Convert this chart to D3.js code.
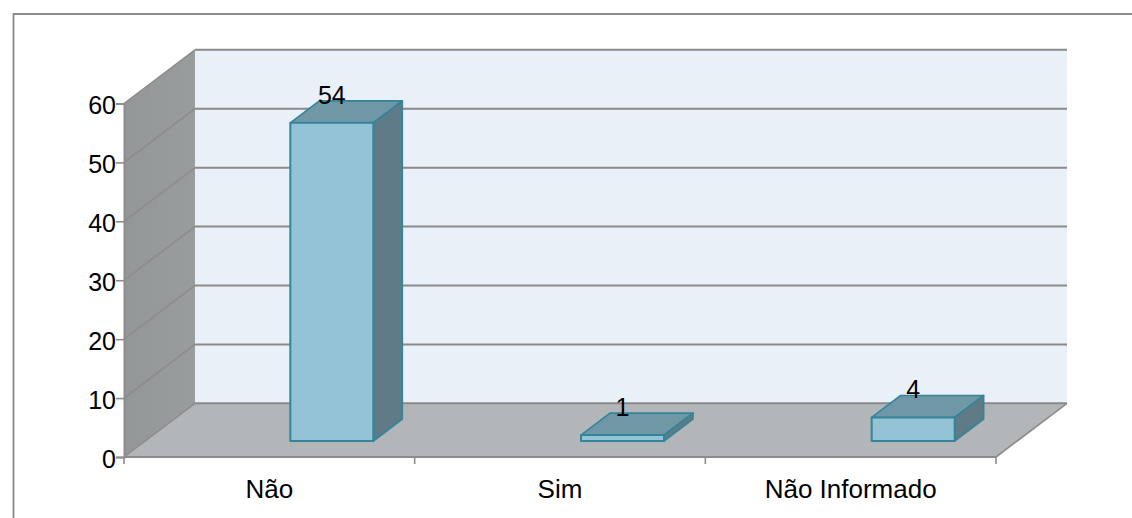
<!DOCTYPE html>
<html><head><meta charset="utf-8">
<script src="https://cdnjs.cloudflare.com/ajax/libs/d3/7.8.5/d3.min.js"></script>
<style>html,body{margin:0;padding:0;background:#fff}svg{display:block}text{font-family:"Liberation Sans",Arial,sans-serif;font-size:25px;fill:#000}</style>
</head><body><svg id="c" width="1132" height="518"></svg>
<script>
const categories = ["Não","Sim","Não Informado"];
const values = [54,1,4];
const yTicks = [0,10,20,30,40,50,60];

const svg = d3.select("#c");
const x = d3.scaleBand().domain(categories).range([124,996]);
const y = d3.scaleLinear().domain([0,60]).range([457,103.5]);
const D = {dx:71, dy:-53.7};
const bar = {off:21, lift:16, w:83, dx:29, dy:-22};
const line = d3.line();
const poly = (pts,fill,stroke,sw) => svg.append("path").attr("d",line(pts)+"Z").attr("fill",fill).attr("stroke",stroke||"none").attr("stroke-width",sw||0).attr("stroke-linejoin","round");

const defs = svg.append("defs");
const g = defs.append("linearGradient").attr("id","wall").attr("x1",0).attr("x2",1).attr("y1",0).attr("y2",0);
g.append("stop").attr("offset",0).attr("stop-color","#939798");
g.append("stop").attr("offset",1).attr("stop-color","#999c9c");

// frame
svg.append("path").attr("d","M13.5,518V14H1132").attr("fill","none").attr("stroke","#8a8a8a").attr("stroke-width",1.8);

const x0=124,x1=996,y0=y(0),yT=y(60);
poly([[x0+D.dx,yT+D.dy],[x1+D.dx,yT+D.dy],[x1+D.dx,y0+D.dy],[x0+D.dx,y0+D.dy]],"#e9f0f7");
poly([[x0,yT],[x0+D.dx,yT+D.dy],[x0+D.dx,y0+D.dy],[x0,y0]],"url(#wall)");
poly([[x0,y0],[x0+D.dx,y0+D.dy],[x1+D.dx,y0+D.dy],[x1,y0]],"#b2b6b9");

// gridlines
yTicks.forEach(t=>{
  const p=y(t);
  svg.append("path").attr("d",line([[x0,p],[x0+D.dx,p+D.dy]])).attr("fill","none").attr("stroke","#8c8c8c").attr("stroke-width",1.5);
  svg.append("path").attr("d",line([[x0+D.dx,p+D.dy],[x1+D.dx,p+D.dy]])).attr("fill","none").attr("stroke","#8a8a8a").attr("stroke-width",2);
});
svg.append("path").attr("d",line([[x1+D.dx,y0+D.dy],[x1,y0]])).attr("fill","none").attr("stroke","#8c8c8c").attr("stroke-width",1.6);

// axes
const yAxis = d3.axisLeft(y).tickValues(yTicks).tickSize(8).tickPadding(0);
const ay = svg.append("g").attr("transform",`translate(${x0},0)`).call(yAxis);
const xEdges = [...categories.map(c=>x(c)),x1];
svg.append("path").attr("d",line([[x0,y0],[x1,y0]])).attr("stroke","#8c8c8c").attr("stroke-width",2).attr("fill","none");
xEdges.forEach(e=>svg.append("path").attr("d",line([[e,y0],[e,y0+7]])).attr("stroke","#8c8c8c").attr("stroke-width",1.6));
ay.select(".domain").attr("stroke","#8c8c8c").attr("stroke-width",2);
ay.selectAll(".tick line").attr("stroke","#8c8c8c").attr("stroke-width",1.6);
ay.selectAll("text").attr("dy","0.4em").style("font-size","25px").style("font-family",'"Liberation Sans",Arial,sans-serif').attr("fill","#000");
ay.attr("font-size",null);

svg.selectAll("text.cat").data(categories).join("text").attr("class","cat")
  .attr("x",c=>x(c)+x.bandwidth()/2).attr("y",498).attr("text-anchor","middle").style("font-size","26px").text(d=>d);

// bars
const sc="#34849a";
categories.forEach((c,i)=>{
  const l=x(c)+x.bandwidth()/2+bar.off, r=l+bar.w;
  const b=y0-bar.lift, t=y(values[i])-bar.lift;
  poly([[l,t],[l+bar.dx,t+bar.dy],[r+bar.dx,t+bar.dy],[r,t]],"#6f97a5",sc,1.6);
  poly([[r,t],[r+bar.dx,t+bar.dy],[r+bar.dx,b+bar.dy],[r,b]],"#5f7b87",sc,1.6);
  poly([[l,t],[r,t],[r,b],[l,b]],"#94c3d5",sc,2);
  svg.append("text").attr("x",l+bar.w/2).attr("y",t-19).attr("text-anchor","middle").text(values[i]);
});
</script></body></html>
